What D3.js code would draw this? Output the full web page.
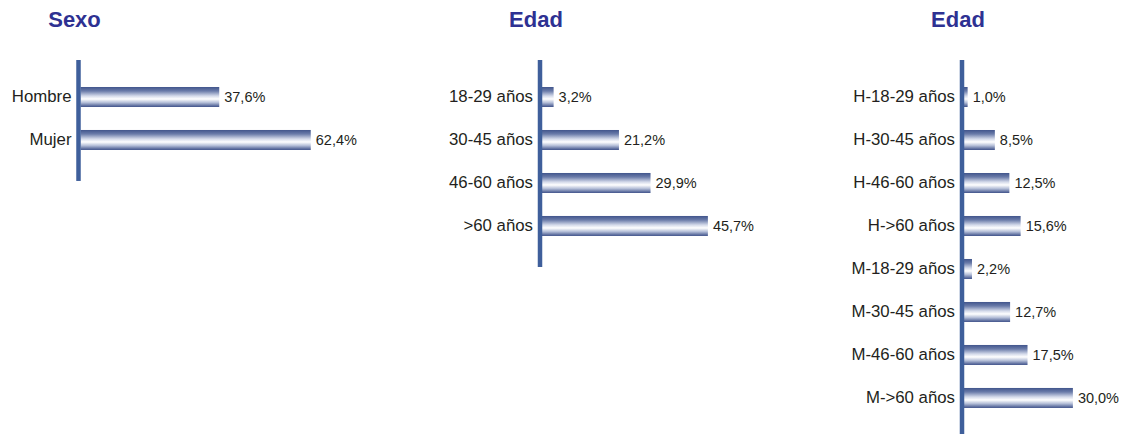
<!DOCTYPE html>
<html>
<head>
<meta charset="utf-8">
<script src="https://cdn.jsdelivr.net/npm/d3@7"></script>
<style>
  body { margin: 0; background: #fff; }
  svg { display: block; font-family: "Liberation Sans", Arial, sans-serif; }
</style>
</head>
<body>
<div id="chart"></div>
<script>

// Datos de cada panel
var sexoCats = ["Hombre", "Mujer"];
var sexoVals = [37.6, 62.4];

var edadCats = ["18-29 años", "30-45 años", "46-60 años", ">60 años"];
var edadVals = [3.2, 21.2, 29.9, 45.7];

var cruceCats = ["H-18-29 años", "H-30-45 años", "H-46-60 años", "H->60 años",
                 "M-18-29 años", "M-30-45 años", "M-46-60 años", "M->60 años"];
var cruceVals = [1.0, 8.5, 12.5, 15.6, 2.2, 12.7, 17.5, 30.0];

var titles = ["Sexo", "Edad", "Edad"];

var svg = d3.select("#chart").append("svg")
    .attr("width", 1127)
    .attr("height", 434);

// degradado de las barras (oscuro - blanco - oscuro)
var grad = svg.append("defs").append("linearGradient")
    .attr("id", "barGrad")
    .attr("x1", 0).attr("y1", 0).attr("x2", 0).attr("y2", 1);
grad.append("stop").attr("offset", "0%").attr("stop-color", "#41558c");
grad.append("stop").attr("offset", "20%").attr("stop-color", "#6a7ba9");
grad.append("stop").attr("offset", "45%").attr("stop-color", "#d4daea");
grad.append("stop").attr("offset", "60%").attr("stop-color", "#ffffff");
grad.append("stop").attr("offset", "78%").attr("stop-color", "#b5bfd8");
grad.append("stop").attr("offset", "100%").attr("stop-color", "#3d5089");

var fmt = function(v) { return d3.format(".1f")(v).replace(".", ",") + "%"; };

function drawPanel(cats, vals, axisX, pxPer100, title) {

    var step = 43;
    var n = cats.length;
    var top = 60;

    var y = d3.scaleBand()
        .domain(cats)
        .range([top, top + step * (n + 0.72)])
        .paddingInner(0.535)
        .paddingOuter(0.628);

    var x = d3.scaleLinear()
        .domain([0, 100])
        .range([axisX + 2, axisX + 2 + pxPer100]);

    var g = svg.append("g");

    // titulo
    g.append("text")
        .attr("x", axisX - 4)
        .attr("y", 27)
        .attr("text-anchor", "middle")
        .attr("font-size", 22)
        .attr("font-weight", "bold")
        .attr("fill", "#2e3192")
        .text(title);

    // barras
    g.selectAll("rect.bar")
        .data(vals)
        .enter()
        .append("rect")
        .attr("class", "bar")
        .attr("x", x(0))
        .attr("y", function(d, i) { return y(cats[i]); })
        .attr("width", function(d) { return x(d) - x(0); })
        .attr("height", y.bandwidth())
        .attr("fill", "url(#barGrad)");

    // etiquetas de valores
    g.selectAll("text.val")
        .data(vals)
        .enter()
        .append("text")
        .attr("class", "val")
        .attr("x", function(d) { return x(d) + 5; })
        .attr("y", function(d, i) { return y(cats[i]) + y.bandwidth() / 2 + 5; })
        .attr("font-size", 14.5)
        .attr("fill", "#231f20")
        .text(fmt);

    // categorias
    g.selectAll("text.cat")
        .data(cats)
        .enter()
        .append("text")
        .attr("class", "cat")
        .attr("x", axisX - 7)
        .attr("y", function(d) { return y(d) + y.bandwidth() / 2 + 5.5; })
        .attr("text-anchor", "end")
        .attr("font-size", 16.8)
        .attr("fill", "#231f20")
        .text(function(d) { return d; });

    // eje vertical
    g.append("line")
        .attr("x1", axisX).attr("x2", axisX)
        .attr("y1", top)
        .attr("y2", y.range()[1] + 4)
        .attr("stroke", "#3f5f9b")
        .attr("stroke-width", 4.5);
}

drawPanel(sexoCats, sexoVals, 78.5, 369, titles[0]);
drawPanel(edadCats, edadVals, 540, 363, titles[1]);
drawPanel(cruceCats, cruceVals, 962, 363, titles[2]);

</script>
</body>
</html>
